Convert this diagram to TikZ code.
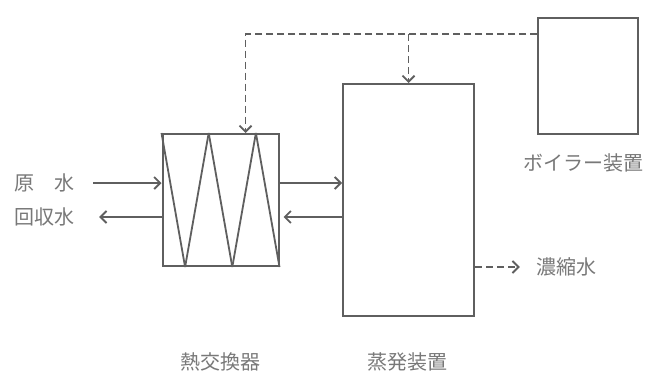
\documentclass[tikz,border=0pt]{standalone}
\usepackage{fontspec}
\usepackage{xcolor}
\usepackage{tikz}
\usetikzlibrary{arrows.meta, positioning, calc}
\newfontfamily\jpfont{Noto Sans CJK JP}
\definecolor{lineGray}{RGB}{95,95,95}
\definecolor{textGray}{RGB}{120,120,120}

\begin{document}
\begin{tikzpicture}[
    x=1pt, y=-1pt,
    unit/.style={rectangle, draw=lineGray, line width=2pt, fill=white,
        inner sep=0pt},
    flow/.style={-{Straight Barb[length=6pt, width=12pt]}, line width=1.9pt, lineGray},
    dflow/.style={flow, dash pattern=on 7pt off 4pt},
    label/.style={font=\jpfont\fontsize{20}{20}\selectfont, textGray, inner sep=1pt}
]
\useasboundingbox (0,0) rectangle (651,372);
\node[unit, minimum width=116pt, minimum height=132pt] (hx) at (220.5,200) {};
\node[unit, minimum width=131pt, minimum height=232pt] (evap) at (408.5,200) {};
\node[unit, minimum width=100pt, minimum height=116pt] (boiler) at (588,76) {};
\foreach \i/\j in {0/0.2, 0.4/0.2, 0.4/0.6, 0.8/0.6, 0.8/1}
    \draw[lineGray, line width=1.8pt]
        ($(hx.north west)!\i!(hx.north east)$) -- ($(hx.south west)!\j!(hx.south east)$);
\node[label] (raw) at (44,183) {原　水};
\node[label] (rec) at (44,217) {回収水};
\node[label] (hxname) at (220,362) {熱交換器};
\node[label] (evapname) at (407,362) {蒸発装置};
\node[label] (boilername) at (583,163) {ボイラー装置};
\node[label] (conc) at (566,267) {濃縮水};
\coordinate (steam) at ([yshift=-17pt]boiler.north west);
\coordinate (split) at (evap.north |- steam);
\draw[flow] ([xshift=18pt]raw.east) -- (raw -| hx.west);
\draw[flow] (rec -| hx.west) -- ([xshift=24pt]rec.east);
\draw[flow] (raw -| hx.east) -- (raw -| evap.west);
\draw[flow] (rec -| evap.west) -- ([xshift=4pt]rec -| hx.east);
\draw[dflow] (steam) -| ([xshift=25pt]hx.north);
\draw[dflow] (split) -- (evap.north);
\draw[dflow] (conc -| evap.east) -- ([xshift=-15pt]conc.west);
\end{tikzpicture}
\end{document}
